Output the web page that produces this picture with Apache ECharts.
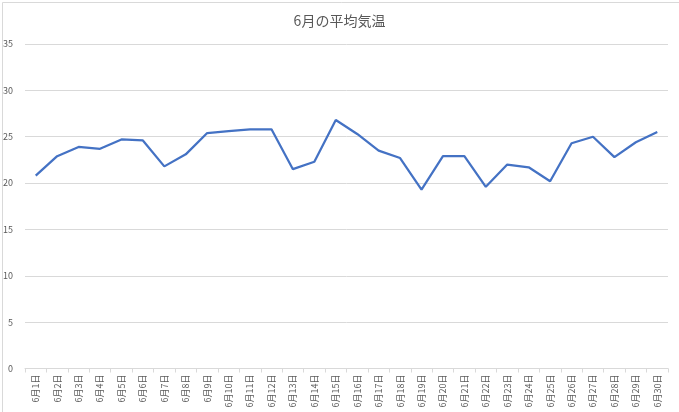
<!DOCTYPE html>
<html>
<head>
<meta charset="utf-8">
<script src="https://cdn.jsdelivr.net/npm/echarts@6/dist/echarts.min.js"></script>
<style>
html,body{margin:0;padding:0;background:#fff;}
#chart{width:679px;height:412px;}
</style>
</head>
<body>
<div id="chart"></div>
<script>
const titleText = '6月の平均気温';
const categories = ['6月1日','6月2日','6月3日','6月4日','6月5日','6月6日','6月7日','6月8日','6月9日','6月10日',
  '6月11日','6月12日','6月13日','6月14日','6月15日','6月16日','6月17日','6月18日','6月19日','6月20日',
  '6月21日','6月22日','6月23日','6月24日','6月25日','6月26日','6月27日','6月28日','6月29日','6月30日'];
const temps = [20.8, 22.9, 23.9, 23.7, 24.7, 24.6, 21.8, 23.1, 25.4, 25.6,
  25.8, 25.8, 21.5, 22.3, 26.8, 25.3, 23.5, 22.7, 19.3, 22.9,
  22.9, 19.6, 22.0, 21.7, 20.2, 24.3, 25.0, 22.8, 24.4, 25.5];
const yMin = 0, yMax = 35, yStep = 5;

const font = '"Noto Sans CJK JP", "Noto Sans", sans-serif';
const chart = echarts.init(document.getElementById('chart'));
chart.setOption({
  animation: false,
  backgroundColor: '#ffffff',
  textStyle: { fontFamily: font },
  title: {
    text: titleText, left: 'center', top: 9,
    textStyle: { fontSize: 14, fontWeight: 'normal', color: '#595959', fontFamily: font }
  },
  graphic: [{
    type: 'rect', left: 0, top: 0, z: -1,
    shape: { x: 0, y: 0, width: 678, height: 410 },
    style: { fill: 'none', stroke: '#d9d9d9', lineWidth: 1 }
  }],
  grid: { left: 25, right: 11, top: 44, bottom: 43.5, containLabel: false },
  xAxis: {
    type: 'category', data: categories, boundaryGap: true,
    axisLine: { lineStyle: { color: '#d9d9d9', width: 1 } },
    axisTick: { show: true, length: 4, lineStyle: { color: '#d9d9d9' } },
    axisLabel: { rotate: 90, fontSize: 9, color: '#595959', margin: 6, interval: 0, fontFamily: font }
  },
  yAxis: {
    type: 'value', min: yMin, max: yMax, interval: yStep,
    axisLine: { show: false }, axisTick: { show: false },
    splitLine: { lineStyle: { color: '#d9d9d9', width: 1 } },
    axisLabel: { fontSize: 9, color: '#595959', margin: 12, fontFamily: font }
  },
  series: [{
    type: 'line', data: temps, symbol: 'none', smooth: false,
    lineStyle: { color: '#4472C4', width: 2.25 }
  }]
});
</script>
</body>
</html>
